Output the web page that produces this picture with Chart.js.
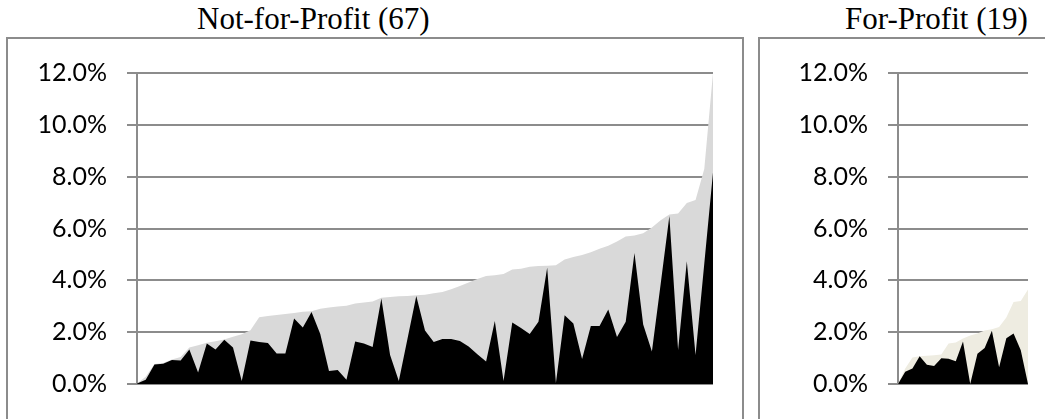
<!DOCTYPE html>
<html>
<head>
<meta charset="utf-8">
<script src="https://cdn.jsdelivr.net/npm/chart.js@4.4.0/dist/chart.umd.min.js"></script>
<style>
  body { margin: 0; background: #fff; width: 1045px; height: 419px; overflow: hidden; position: relative; }
  .title { position: absolute; top: 3px; font-family: "Liberation Serif", "Times New Roman", serif; font-size: 31px; line-height: 31px; color: #000; white-space: nowrap; }
  .panel { position: absolute; top: 37px; height: 420px; border: 2px solid #8c8c8c; }
  canvas { position: absolute; top: 38px; }
</style>
</head>
<body>
<div class="title" style="left:197px">Not-for-Profit (67)</div>
<div class="title" style="left:845px">For-Profit (19)</div>
<div class="panel" style="left:6px; width:734px"></div>
<div class="panel" style="left:758px; width:300px"></div>
<canvas id="npChart" width="750" height="381" style="left:0"></canvas>
<canvas id="fpChart" width="286" height="381" style="left:759px"></canvas>
<script>
// Not-for-Profit, 67 providers (percent), sorted by the grey series
const npGrey = [0.02, 0.28, 0.77, 0.81, 0.95, 1.04, 1.41, 1.50, 1.59, 1.65,
  1.72, 1.82, 1.92, 2.07, 2.58, 2.62, 2.66, 2.70, 2.74, 2.79,
  2.81, 2.90, 2.95, 2.99, 3.02, 3.11, 3.14, 3.18, 3.33, 3.36,
  3.39, 3.40, 3.42, 3.44, 3.50, 3.55, 3.66, 3.78, 3.92, 4.05,
  4.17, 4.20, 4.24, 4.42, 4.45, 4.52, 4.55, 4.56, 4.58, 4.80,
  4.90, 4.98, 5.08, 5.22, 5.33, 5.50, 5.69, 5.73, 5.82, 6.04,
  6.32, 6.54, 6.58, 6.98, 7.10, 8.30, 12.00];
const npBlack = [0.02, 0.16, 0.75, 0.78, 0.93, 0.91, 1.33, 0.44, 1.56, 1.33,
  1.71, 1.41, 0.12, 1.68, 1.62, 1.58, 1.18, 1.18, 2.53, 2.18,
  2.78, 1.93, 0.50, 0.54, 0.16, 1.64, 1.56, 1.43, 3.30, 1.12,
  0.12, 1.76, 3.40, 2.06, 1.62, 1.74, 1.74, 1.66, 1.45, 1.15,
  0.87, 2.43, 0.12, 2.37, 2.16, 1.93, 2.40, 4.49, 0.04, 2.65,
  2.33, 0.96, 2.24, 2.24, 2.87, 1.81, 2.40, 5.05, 2.30, 1.25,
  3.85, 6.48, 1.31, 4.74, 1.12, 4.64, 8.16];

// For-Profit, 19 providers (percent)
const fpGrey = [0, 0.60, 1.02, 1.07, 1.09, 1.11, 1.14, 1.56, 1.60, 1.76,
  1.87, 1.95, 2.06, 2.11, 2.20, 2.57, 3.16, 3.20, 3.65];
const fpBlack = [0, 0.47, 0.60, 1.07, 0.74, 0.69, 0.99, 0.97, 0.88, 1.64,
  0, 1.17, 1.39, 2.05, 0.65, 1.77, 1.95, 1.30, 0];

const yTicks = { min: 0, max: 12, step: 2 };

function renderPanel(ctx, black, grey, greyColor, pad, axisWidth) {
  const labels = grey.map((_, i) => i + 1);
  return new Chart(ctx, {
    type: 'line',
    data: {
      labels: labels,
      datasets: [
        { data: black, backgroundColor: '#000000', borderColor: 'rgba(0,0,0,0)', borderWidth: 0, pointRadius: 0, fill: 'origin', tension: 0 },
        { data: grey, backgroundColor: greyColor, borderColor: 'rgba(0,0,0,0)', borderWidth: 0, pointRadius: 0, fill: 'origin', tension: 0 }
      ]
    },
    options: {
      responsive: false,
      animation: false,
      layout: { padding: pad },
      plugins: { legend: { display: false }, tooltip: { enabled: false } },
      scales: {
        x: { display: false },
        y: {
          min: yTicks.min, max: yTicks.max,
          ticks: {
            stepSize: yTicks.step, padding: 20, color: '#000',
            font: { family: 'Lato', size: 25 },
            callback: v => v.toFixed(1) + '%'
          },
          grid: { color: '#8c8c8c', lineWidth: 2, tickLength: 10, tickColor: '#8c8c8c' },
          border: { color: '#8c8c8c', width: 2 },
          afterFit: s => { s.width = axisWidth; }
        }
      }
    }
  });
}

renderPanel(document.getElementById('npChart').getContext('2d'), npBlack, npGrey, '#d9d9d9',
  { top: 31, right: 37, bottom: 27, left: 0 }, 137);
renderPanel(document.getElementById('fpChart').getContext('2d'), fpBlack, fpGrey, '#eeece1',
  { top: 32, right: 17, bottom: 29, left: 0 }, 139);
</script>
</body>
</html>
